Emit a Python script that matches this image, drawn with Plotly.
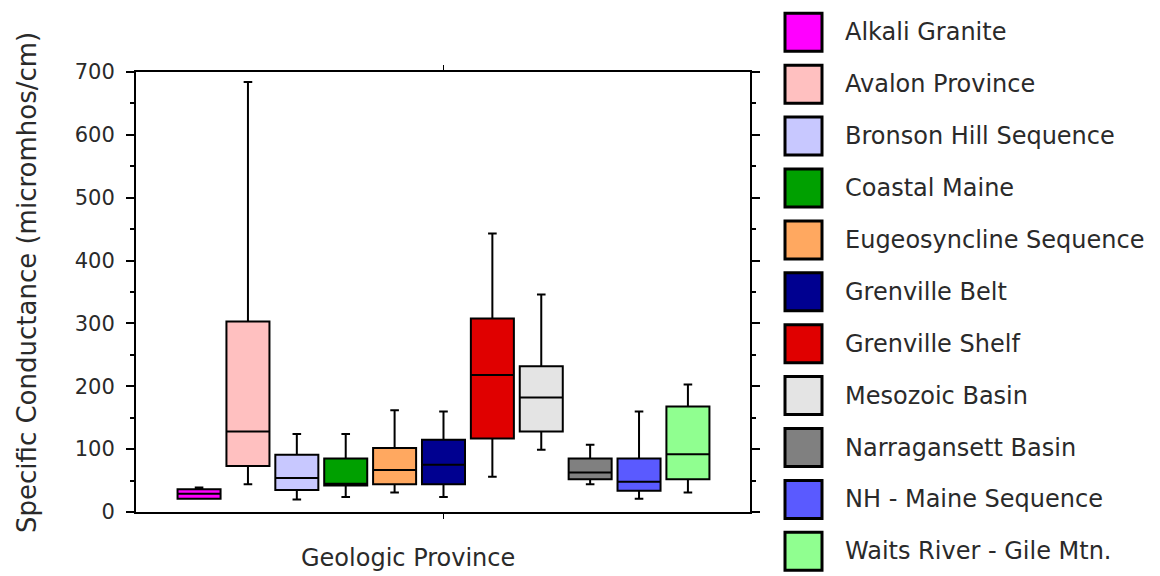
import plotly.graph_objects as go

provinces = ["Alkali Granite", "Avalon Province", "Bronson Hill Sequence", "Coastal Maine",
             "Eugeosyncline Sequence", "Grenville Belt", "Grenville Shelf", "Mesozoic Basin",
             "Narragansett Basin", "NH - Maine Sequence", "Waits River - Gile Mtn."]
colors = ["#FF00FF", "#FFC0C0", "#C8C8FF", "#00A000", "#FFA860", "#000090",
          "#E00000", "#E4E4E4", "#808080", "#5A5AFF", "#90FF90"]
lower = [21, 44, 20, 24, 31, 24, 56, 99, 44, 21, 31]
q1 = [21, 73, 35, 42, 44, 44, 117, 128, 52, 34, 52]
median = [29, 128, 54, 45, 67, 75, 218, 182, 63, 48, 92]
q3 = [36, 303, 91, 85, 102, 115, 308, 232, 85, 85, 168]
upper = [39, 684, 124, 124, 162, 160, 443, 346, 107, 160, 203]
y_ticks = [0, 100, 200, 300, 400, 500, 600, 700]

FONT = "DejaVu Sans"
TXT = "#2a2a2a"

fig = go.Figure()
for i, name in enumerate(provinces):
    fig.add_trace(go.Box(
        x=[i], q1=[q1[i]], median=[median[i]], q3=[q3[i]],
        lowerfence=[lower[i]], upperfence=[upper[i]],
        name=name, fillcolor=colors[i], width=0.88, whiskerwidth=0.2,
        line=dict(color="black", width=2), showlegend=False, boxpoints=False,
    ))

# plot area in pixels: x 136..750, y 72..512
L, R, T, B = 136, 750, 72, 512
PW, PH = R - L, B - T

def px_x(p):
    return (p - L) / PW

def px_y(p):
    return (B - p) / PH

shapes = []
annotations = []
for i, name in enumerate(provinces):
    cy = 32.3 + 51.9 * i
    shapes.append(dict(type="rect", xref="paper", yref="paper",
                       x0=px_x(785), x1=px_x(822), y0=px_y(cy + 19), y1=px_y(cy - 19),
                       fillcolor=colors[i], line=dict(color="black", width=3)))
    annotations.append(dict(text=name, xref="paper", yref="paper", x=px_x(843), y=px_y(cy),
                            xanchor="left", yanchor="middle", showarrow=False,
                            font=dict(family=FONT, size=24, color=TXT)))

annotations.append(dict(text="Geologic Province", xref="paper", yref="paper",
                        x=px_x(408), y=px_y(558), xanchor="center", yanchor="middle",
                        showarrow=False, font=dict(family=FONT, size=24, color=TXT)))
annotations.append(dict(text="Specific Conductance (micromhos/cm)", xref="paper", yref="paper",
                        x=px_x(27), y=px_y(283), xanchor="center", yanchor="middle",
                        textangle=-90, showarrow=False,
                        font=dict(family=FONT, size=26, color=TXT)))

fig.update_layout(
    width=1160, height=576,
    margin=dict(l=L, r=1160 - R, t=T, b=576 - B),
    paper_bgcolor="white", plot_bgcolor="white",
    shapes=shapes, annotations=annotations,
    xaxis=dict(range=[-1.29, 11.27], tickvals=[5], ticktext=[""], ticks="outside",
               ticklen=5, tickcolor="black", showline=True, linecolor="black", linewidth=2,
               mirror="ticks", showgrid=False, zeroline=False, fixedrange=True),
    yaxis=dict(range=[0, 700], tickvals=y_ticks, ticks="outside", ticklen=8,
               tickcolor="black", tickwidth=1.5, showline=True, linecolor="black", linewidth=2,
               mirror="ticks", showgrid=False, zeroline=False, ticklabelstandoff=7,
               tickfont=dict(family=FONT, size=21, color=TXT),
               minor=dict(dtick=50, ticks="outside", ticklen=4, tickcolor="black"),
               fixedrange=True),
)

fig.write_html("out.html", config={"displayModeBar": False},
               post_script="document.body.style.margin='0';document.body.style.overflow='hidden';")
